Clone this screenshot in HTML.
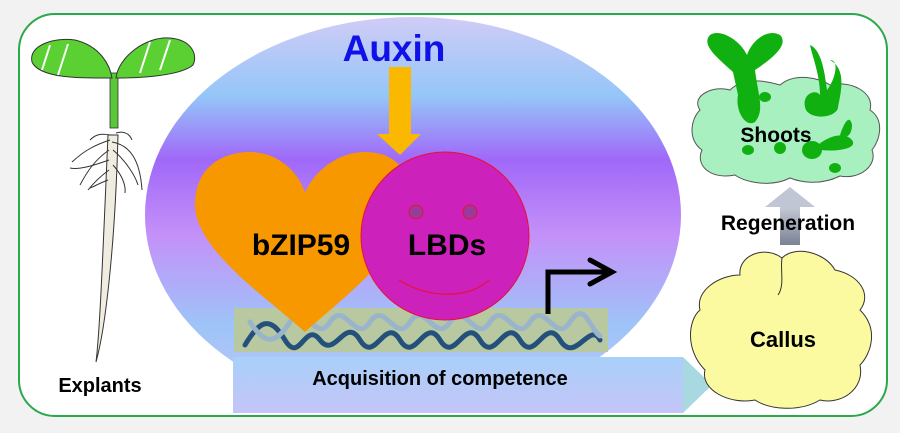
<!DOCTYPE html>
<html><head><meta charset="utf-8"><style>
html,body{margin:0;padding:0;background:#f2f2f2;}
svg{display:block;}
text{font-family:"Liberation Sans",Arial,sans-serif;font-weight:bold;}
</style></head><body>
<svg width="900" height="433" viewBox="0 0 900 433" xmlns="http://www.w3.org/2000/svg">
<defs>
<linearGradient id="eg" x1="0" y1="0" x2="0" y2="1">
<stop offset="0" stop-color="#d0ccf6"/>
<stop offset="0.2" stop-color="#94c6f8"/>
<stop offset="0.36" stop-color="#a068f8"/>
<stop offset="0.55" stop-color="#c490f8"/>
<stop offset="0.78" stop-color="#9ec4f8"/>
<stop offset="1" stop-color="#c6c6f8"/>
</linearGradient>
<linearGradient id="ag" x1="0" y1="0" x2="0" y2="1">
<stop offset="0" stop-color="#a8d0f8"/><stop offset="1" stop-color="#c4c4f8"/>
</linearGradient>
<linearGradient id="gg" x1="0" y1="0" x2="0" y2="1">
<stop offset="0" stop-color="#c8ccd8"/><stop offset="1" stop-color="#7a8294"/>
</linearGradient>
</defs>
<rect x="19" y="14" width="868" height="402" rx="36" fill="#fff" stroke="#2aa84a" stroke-width="2"/>
<ellipse cx="413" cy="215" rx="268" ry="198" fill="url(#eg)"/>
<rect x="233" y="357" width="450" height="56" fill="url(#ag)"/>
<polygon points="683,357 712,385 683,413" fill="#a8d8e0"/>
<text x="440" y="385" font-size="20" text-anchor="middle" fill="#000">Acquisition of competence</text>
<rect x="234" y="308" width="374" height="44" fill="#b8c8a0"/>
<g fill="none" stroke-width="5" stroke-linecap="round">
<path d="M245,345 C260,320 270,315 285,340 S305,320 320,340 S345,315 360,340 S385,315 400,340 S425,315 440,340 S465,315 480,340 S505,315 520,340 S545,315 560,340 S590,320 600,340" stroke="#24507c"/>
<path d="M250,322 C265,345 275,345 290,322 S315,345 330,322 S355,345 370,322 S395,345 410,322 S435,345 450,322 S475,345 490,322 S515,345 530,322 S555,345 570,322 S590,330 600,336" stroke="#9ab4cc"/>
</g>
<path d="M548,314 V272 H608" fill="none" stroke="#000" stroke-width="5"/>
<path d="M590,260 L612,272 L590,284" fill="none" stroke="#000" stroke-width="5" stroke-linecap="round"/>
<path d="M305,332 C270,300 195,250 195,205 C195,165 225,152 250,152 C280,152 300,175 305,193 C312,175 335,152 365,152 C395,152 410,170 410,200 C410,250 340,300 305,332 Z" fill="#f79800"/>
<rect x="389" y="67" width="22" height="68" fill="#fbb800"/>
<polygon points="377,134 421,134 400,155" fill="#fbb800"/>
<text x="394" y="61" font-size="37" text-anchor="middle" fill="#1010e8">Auxin</text>
<circle cx="445" cy="236" r="84" fill="#cc22bb" stroke="#e8103a" stroke-width="1"/>
<circle cx="416" cy="212" r="7" fill="#9a3a9a" stroke="#e8103a"/>
<circle cx="470" cy="212" r="7" fill="#9a3a9a" stroke="#e8103a"/>
<path d="M399,280 C430,300 470,298 489,280" fill="none" stroke="#e8103a" stroke-width="1.2"/>
<text x="301" y="255" font-size="30" text-anchor="middle" fill="#000">bZIP59</text>
<text x="447" y="255" font-size="30" text-anchor="middle" fill="#000">LBDs</text>
<g>
<path d="M96,362 C100,330 103,250 108,135 L118,135 C115,250 105,330 96,362 Z" fill="#f0ece0" stroke="#333" stroke-width="1"/>
<g stroke="#333" stroke-width="1" fill="none">
<path d="M110,140 C95,145 85,150 72,162"/><path d="M112,142 C130,145 140,160 142,190"/>
<path d="M109,150 C95,160 88,170 80,185"/><path d="M113,150 C125,160 135,175 138,185"/>
<path d="M109,160 C95,165 80,170 70,168"/><path d="M113,165 C122,175 126,185 125,193"/>
<path d="M109,170 C98,178 92,185 88,190"/><path d="M108,180 C100,183 95,186 90,188"/>
<path d="M110,135 C100,133 95,135 90,140"/><path d="M116,133 C125,130 130,135 132,140"/>
</g>
<rect x="110" y="73" width="8" height="55" fill="#5ac838" stroke="#333" stroke-width="0.8"/>
<path d="M112,78 C90,78 40,80 32,62 C28,45 55,37 75,40 C100,46 110,65 112,78 Z" fill="#5ad032" stroke="#333" stroke-width="1"/>
<path d="M116,78 C118,58 145,36 170,38 C192,40 198,55 193,65 C180,76 140,78 116,78 Z" fill="#5ad032" stroke="#333" stroke-width="1"/>
<g stroke="#fff" stroke-width="2"><line x1="50" y1="45" x2="42" y2="70"/><line x1="68" y1="44" x2="58" y2="75"/><line x1="150" y1="42" x2="140" y2="73"/><line x1="170" y1="40" x2="160" y2="70"/></g>
</g>
<text x="100" y="392" font-size="20" text-anchor="middle" fill="#000">Explants</text>
<path d="M700,110 C690,95 715,85 730,90 C745,75 770,82 780,85 C795,72 820,78 830,85 C850,80 875,92 870,110 C885,120 880,140 872,150 C878,165 860,180 840,176 C820,186 800,182 790,178 C770,188 745,182 735,175 C710,180 695,165 702,150 C688,140 690,120 700,110 Z" fill="#a8f0c0" stroke="#555" stroke-width="1"/>
<g fill="#10b010">
<path d="M733,72 C720,60 700,45 710,35 C720,28 740,40 747,55 C752,40 768,28 780,35 C790,45 770,60 755,70 C758,95 765,110 755,122 C745,128 735,110 738,95 Z"/>
<path d="M806,110 C800,95 815,88 820,95 C820,75 812,55 810,45 C822,50 825,75 827,90 C835,80 840,60 830,60 C848,70 840,95 838,108 C835,118 812,120 806,110 Z"/>
<ellipse cx="765" cy="97" rx="6" ry="5"/><ellipse cx="812" cy="150" rx="10" ry="9"/><ellipse cx="780" cy="148" rx="6" ry="6"/>
<ellipse cx="748" cy="150" rx="6" ry="5"/><ellipse cx="835" cy="168" rx="6" ry="5"/>
<path d="M818,145 C830,135 845,132 852,140 C858,148 840,152 820,150 Z"/>
<path d="M840,135 C845,120 850,115 852,125 C852,135 846,140 840,135 Z"/>
</g>
<text x="776" y="142" font-size="21" text-anchor="middle" fill="#000">Shoots</text>
<rect x="780" y="205" width="20" height="40" fill="url(#gg)"/>
<polygon points="765,207 790,187 815,207" fill="#c0c6d4"/>
<text x="788" y="230" font-size="21" text-anchor="middle" fill="#000">Regeneration</text>
<path d="M740,275 C738,255 765,245 782,258 C795,245 825,252 835,270 C860,275 872,295 860,310 C880,330 870,355 860,365 C865,390 840,405 820,400 C800,412 770,410 755,400 C730,405 700,390 705,370 C685,350 688,320 700,310 C695,290 720,275 740,275 Z" fill="#fbfaa0" stroke="#333" stroke-width="1"/>
<path d="M782,258 C780,270 785,285 778,295" fill="none" stroke="#333" stroke-width="1"/>
<text x="783" y="347" font-size="22" text-anchor="middle" fill="#000">Callus</text>
</svg>
</body></html>
